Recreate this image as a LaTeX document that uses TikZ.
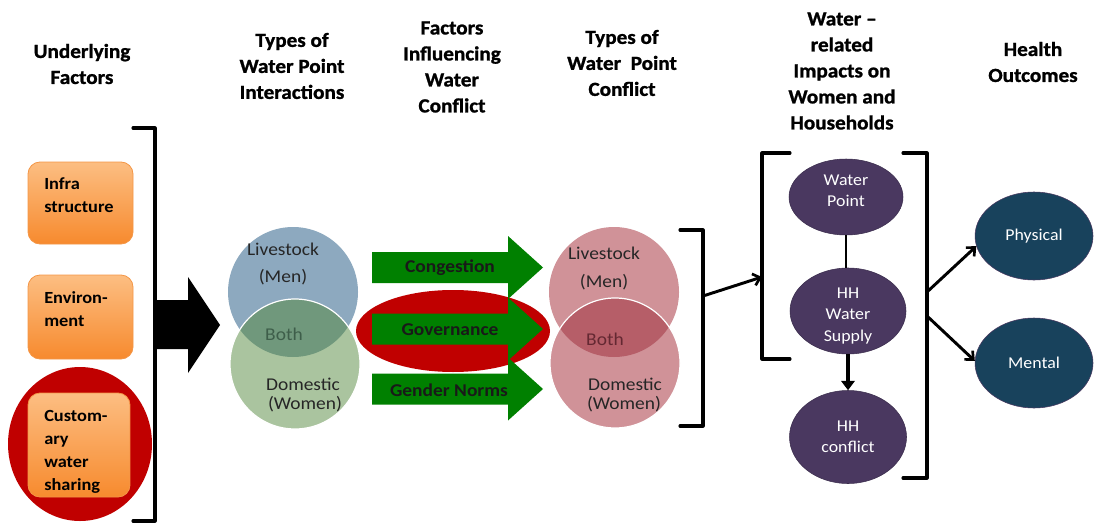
\documentclass[tikz,border=0pt]{standalone}
\usepackage{fontspec}
\setmainfont{Carlito}[FakeStretch=1.08]
\newfontfamily\headfont{Carlito}[Ligatures=TeX, FakeStretch=1.06, BoldFeatures={FakeBold=1.2}]
\usetikzlibrary{arrows.meta,shapes.geometric}
\def\upx{*0.75pt}
\definecolor{orgT}{RGB}{252,190,130}
\definecolor{orgB}{RGB}{247,138,46}
\definecolor{orgD}{RGB}{244,150,70}
\definecolor{redc}{RGB}{192,0,0}
\definecolor{bluegrey}{RGB}{141,169,191}
\definecolor{greenl}{RGB}{170,196,159}
\definecolor{lensg}{RGB}{112,152,124}
\definecolor{bothg}{RGB}{62,94,74}
\definecolor{pinkc}{RGB}{208,146,152}
\definecolor{lensp}{RGB}{182,94,104}
\definecolor{bothp}{RGB}{100,40,50}
\definecolor{garrow}{RGB}{0,128,0}
\definecolor{purp}{RGB}{74,56,96}
\definecolor{teal}{RGB}{24,66,92}
\newcommand\greenarrow[1]{%
  \fill[garrow] (372,{#1-15.5}) -- (508,{#1-15.5}) -- (508,{#1-31.5}) -- (543,#1)
    -- (508,{#1+31.5}) -- (508,{#1+15.5}) -- (372,{#1+15.5}) -- cycle;}
\newcommand\venn[7]{% top centre x,y ; bottom centre x,y ; top, bottom, lens colours
  \fill[#5] (#1,#2) circle[radius=65\upx];
  \fill[#6] (#3,#4) circle[radius=65\upx];
  \begin{scope}
    \clip (#1,#2) circle[radius=65\upx];
    \fill[#7] (#3,#4) circle[radius=65\upx];
  \end{scope}
  \draw[white, line width=0.9pt] (#3,#4) circle[radius=65\upx];}
\begin{document}
\begin{tikzpicture}[x=0.75pt,y=-0.75pt,
  head/.style={font=\headfont\bfseries\fontsize{15}{19.5}\selectfont, align=center},
  obox/.style={draw=orgD, line width=0.6pt, rounded corners=9pt,
    top color=orgT, bottom color=orgB, minimum width=105\upx, inner sep=0pt},
  btext/.style={anchor=west, align=left, inner sep=0pt,
    font=\bfseries\fontsize{12.75}{17.25}\selectfont},
  vtext/.style={font=\fontsize{13.5}{16}\selectfont, text=black!85},
  atext/.style={font=\bfseries\fontsize{13.5}{16}\selectfont, text=black!90},
  pell/.style={ellipse, fill=purp, draw=purp!80!black, line width=0.4pt, inner sep=0pt,
    text=white, align=center, font=\fontsize{12.4}{16}\selectfont},
  tell/.style={pell, fill=teal, draw=purp},
  brk/.style={line width=2.3pt, line cap=round, line join=round},
  conn/.style={line width=2.2pt, -{Straight Barb[length=5pt,width=9pt,line width=2pt]}}]
\useasboundingbox (0,0) rectangle (1094,524);

% column headings
\node[head] (h1) at (82,64) {Underlying\\Factors};
\node[head] (h2) at (292,66) {Types of\\Water Point\\Interactions};
\node[head] (h3) at (452,67) {Factors\\Influencing\\Water\\Conflict};
\node[head] (h4) at (622,63) {Types of\\Water\ \ Point\\Conflict};
\node[head] (h5) at (842,71) {Water –\\related\\Impacts on\\Women and\\Households};
\node[head] (h6) at (1033,62) {Health\\Outcomes};

% underlying factors
\fill[redc] (80,444) ellipse[x radius=72\upx, y radius=77\upx];
\node[obox, minimum height=82\upx] (inf) at (80.5,203) {};
\node[obox, minimum height=84\upx] (env) at (80.5,317) {};
\node[obox, minimum height=104\upx, minimum width=102\upx] (cus) at (79,445) {};
\node[btext] (inft) at (44,195) {Infra\\structure};
\node[btext] (envt) at (44,309) {Environ-\\ment};
\node[btext] (cust) at (44,452) {Custom-\\ary\\water\\sharing};
\draw[brk] (133,128) -- (155,128) -- (155,521) -- (133,521);

% big arrow
\fill[black] (155,300) -- (188,300) -- (188,277) -- (220,325) -- (188,373)
  -- (188,349) -- (155,349) -- cycle;

% interactions Venn
\venn{293}{292}{295}{364}{bluegrey}{greenl}{lensg}
\node[vtext] (i1) at (283,249) {Livestock};
\node[vtext] (i2) at (283,277) {(Men)};
\node[vtext, text=bothg] (i3) at (284,334) {Both};
\node[vtext] (i4) at (303,384) {Domestic};
\node[vtext] (i5) at (305,404) {(Women)};

% influencing factors
\fill[redc] (453,331) ellipse[x radius=97\upx, y radius=41\upx];
\greenarrow{267.5}
\greenarrow{329}
\greenarrow{389}
\node[atext] (f1) at (450,268) {Congestion};
\node[atext] (f2) at (450,330) {Governance};
\node[atext] (f3) at (449,390) {Gender Norms};

% conflict Venn
\venn{614}{292}{615}{363}{pinkc}{pinkc}{lensp}
\node[vtext] (c1) at (604,253) {Livestock};
\node[vtext] (c2) at (604,282) {(Men)};
\node[vtext, text=bothp] (c3) at (605,339) {Both};
\node[vtext] (c4) at (625,384) {Domestic};
\node[vtext] (c5) at (624,404) {(Women)};
\draw[brk] (680,230) -- (703,230) -- (703,426) -- (680,426);

% impacts
\coordinate (b2) at (703,296);
\coordinate (b3) at (762,277);
\draw[conn] (b2) -- (b3);
\draw[brk] (790,153) -- (762,153) -- (762,359) -- (790,359);
\node[pell, minimum width=114\upx, minimum height=76\upx] (wp) at (846,197) {};
\node[pell, minimum width=116\upx, minimum height=86\upx] (hs) at (848,311) {};
\node[pell, minimum width=117\upx, minimum height=93\upx] (hc) at (848,437) {HH\\conflict};
\node[pell, fill=none, draw=none] (wpt) at (846,191) {Water\\Point};
\node[pell, fill=none, draw=none] (hst) at (848,316) {HH\\Water\\Supply};
\draw[line width=2.2pt] (wp.south) -- (wp.south |- hs.north);
\draw[line width=3pt, -{Triangle[length=7pt,width=10pt]}] (hs) -- (hc);
\draw[brk] (903,153) -- (927,153) -- (927,478) -- (903,478);

% health outcomes
\node[tell, minimum width=118\upx, minimum height=88\upx] (ph) at (1034,236) {Physical};
\node[tell, minimum width=118\upx, minimum height=90\upx] (me) at (1034,363) {Mental};
\coordinate (b4a) at (927,292);
\coordinate (b4b) at (927,316);
\draw[conn] (b4a) -- (ph.190);
\draw[conn] (b4b) -- (me.178);
\end{tikzpicture}
\end{document}
